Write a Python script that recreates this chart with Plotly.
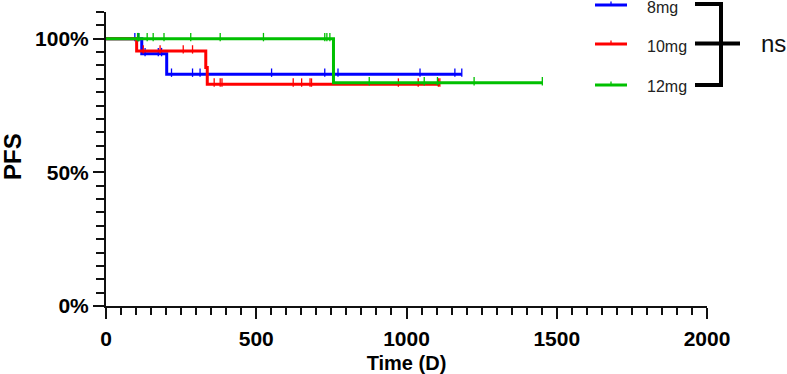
import plotly.graph_objects as go

# ---- data ----
groups = ["8mg", "10mg", "12mg"]
colors = ["#0000FF", "#FF0000", "#00C000"]

# Kaplan-Meier steps: event times (days) and survival (%) after each step
t_8mg = [0, 119, 202, 1184]
s_8mg = [100, 94.4, 86.7, 86.7]
c_8mg = [96, 108, 130, 174, 185, 218, 288, 313, 551, 728, 772, 1045, 1161, 1184]

t_10mg = [0, 102, 332, 337, 1111]
s_10mg = [100, 95.4, 89.2, 83.0, 83.0]
c_10mg = [124, 180, 257, 288, 360, 380, 386, 623, 651, 679, 684, 973, 1039, 1106, 1111]

t_12mg = [0, 757, 1452]
s_12mg = [100, 83.5, 83.5]
c_12mg = [105, 110, 137, 157, 193, 282, 380, 524, 728, 735, 745, 876, 1059, 1103, 1225, 1452]

x_ticks = [0, 500, 1000, 1500, 2000]
y_ticks = [0, 50, 100]
y_ticktext = ["0%", "50%", "100%"]
stat_label = "ns"

series = [
    (groups[0], colors[0], t_8mg, s_8mg, c_8mg),
    (groups[1], colors[1], t_10mg, s_10mg, c_10mg),
    (groups[2], colors[2], t_12mg, s_12mg, c_12mg),
]


def km_value(t, times, surv):
    v = surv[0]
    for ti, si in zip(times, surv):
        if ti <= t:
            v = si
    return v


fig = go.Figure()
for name, col, tt, ss, cc in series:
    fig.add_trace(go.Scatter(
        x=tt, y=ss, mode="lines", line=dict(color=col, width=3, shape="hv"),
        name=name, showlegend=False, cliponaxis=False))
    fig.add_trace(go.Scatter(
        x=cc, y=[km_value(c, tt, ss) + 0.6 for c in cc], mode="markers",
        marker=dict(symbol="line-ns", size=6, line=dict(color=col, width=1.3)),
        showlegend=False, cliponaxis=False))

# plot area in pixels
L, R, T, B = 106, 707, 12, 306
W = R - L
H = B - T


def px(x):
    return (x - L) / W


def py(y):
    return (B - y) / H


shapes = []
annots = []
leg_y = [5, 44, 85]
for (name, col, *_), yy in zip(series, leg_y):
    shapes.append(dict(type="line", xref="paper", yref="paper",
                       x0=px(595), x1=px(627), y0=py(yy), y1=py(yy),
                       line=dict(color=col, width=3)))
    shapes.append(dict(type="line", xref="paper", yref="paper",
                       x0=px(611), x1=px(611), y0=py(yy), y1=py(yy - 3.5),
                       line=dict(color=col, width=1.3)))
    annots.append(dict(xref="paper", yref="paper", x=px(645), y=py(yy + 2),
                       xanchor="left", yanchor="middle", text=name, showarrow=False,
                       font=dict(family="Liberation Sans", size=16, color="#222222")))

# bracket
bk = "#000000"
shapes += [
    dict(type="line", xref="paper", yref="paper", x0=px(695), x1=px(723), y0=py(4), y1=py(4),
         line=dict(color=bk, width=4)),
    dict(type="line", xref="paper", yref="paper", x0=px(695), x1=px(740), y0=py(43.5), y1=py(43.5),
         line=dict(color=bk, width=4)),
    dict(type="line", xref="paper", yref="paper", x0=px(695), x1=px(723), y0=py(85), y1=py(85),
         line=dict(color=bk, width=4)),
    dict(type="line", xref="paper", yref="paper", x0=px(721), x1=px(721), y0=py(2), y1=py(87),
         line=dict(color=bk, width=4)),
]
annots.append(dict(xref="paper", yref="paper", x=px(759), y=py(43), xanchor="left",
                   yanchor="middle", text=stat_label, showarrow=False,
                   font=dict(family="Liberation Sans", size=24, color="#111111")))
annots.append(dict(xref="paper", yref="paper", x=px(12), y=py(157), xanchor="center",
                   yanchor="middle", text="PFS", textangle=-90, showarrow=False, borderpad=0,
                   font=dict(family="Liberation Sans", size=24, color="#000000", weight="bold")))

axcol = "#111111"
fig.update_layout(
    width=787, height=374, autosize=False,
    margin=dict(l=L, r=787 - R, t=T, b=374 - B, autoexpand=False),
    paper_bgcolor="white", plot_bgcolor="white",
    shapes=shapes, annotations=annots,
    xaxis=dict(range=[0, 2000], tickvals=x_ticks, showgrid=False, zeroline=False,
               showline=True, linecolor=axcol, linewidth=2,
               ticks="outside", ticklen=11, tickwidth=2, tickcolor=axcol,
               ticklabelstandoff=2,
               minor=dict(tick0=0, dtick=50, ticks="outside", ticklen=7, tickwidth=1.5, tickcolor=axcol),
               tickfont=dict(family="Liberation Sans", size=21, color="#000000", weight="bold"),
               title=dict(text="Time (D)", standoff=13,
                          font=dict(family="Liberation Sans", size=20, color="#000000", weight="bold"))),
    yaxis=dict(range=[0, 110], tickvals=y_ticks, ticktext=y_ticktext, showgrid=False, zeroline=False,
               showline=True, linecolor=axcol, linewidth=2,
               ticks="outside", ticklen=11, tickwidth=2, tickcolor=axcol,
               minor=dict(tick0=0, dtick=5, ticks="outside", ticklen=8, tickwidth=1.5, tickcolor=axcol),
               tickfont=dict(family="Liberation Sans", size=21, color="#000000", weight="bold")),
)

fig.write_html("out.html", config={"displayModeBar": False},
               post_script="document.body.style.margin='0';document.body.style.overflow='hidden';")
